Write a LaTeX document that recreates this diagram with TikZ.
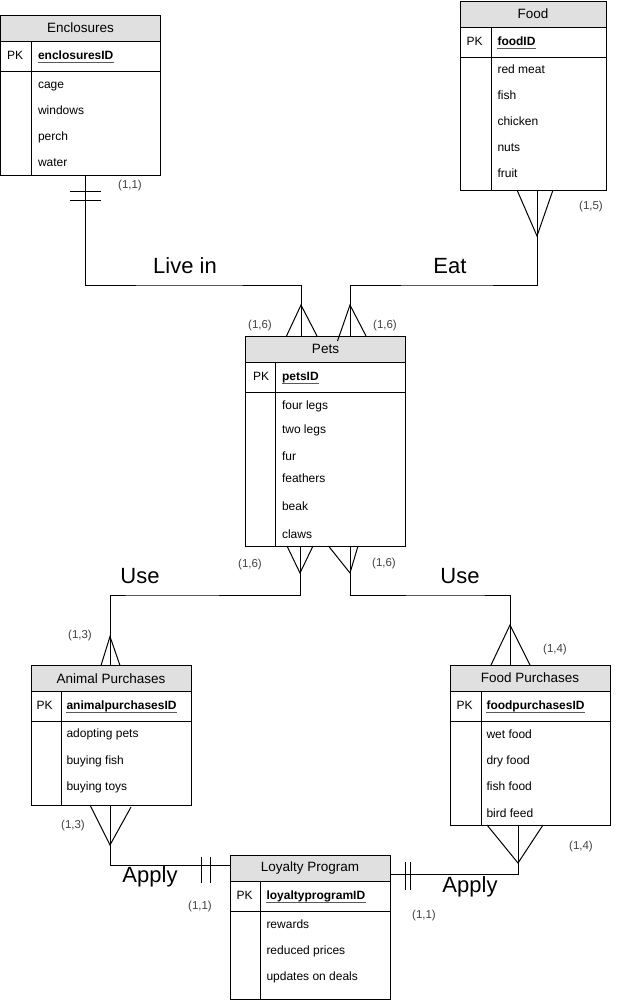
\documentclass[tikz,border=0pt]{standalone}
\usepackage{fontspec}
\setmainfont{Liberation Sans}
\usetikzlibrary{positioning}
\definecolor{headgray}{HTML}{E0E0E0}
\begin{document}
\begin{tikzpicture}[x=1pt, y=-1pt, line width=1pt,
    head/.style={draw, fill=headgray, minimum height=26pt, inner sep=0pt, outer sep=0pt, font=\fontsize{13.5}{16}\selectfont},
    pkbox/.style={draw, minimum height=30pt, inner sep=0pt, outer sep=0pt},
    bodybox/.style={draw, inner sep=0pt, outer sep=0pt},
    field/.style={anchor=west, inner sep=0pt, text height=8.6pt, text depth=2.4pt, font=\fontsize{12}{14}\selectfont},
    keyid/.style={field, font=\fontsize{12}{14}\selectfont\bfseries,
      append after command={(\tikzlastnode.south west) edge[line width=0.8pt, black!65] (\tikzlastnode.south east)}},
    card/.style={text=black!75, inner sep=0pt, font=\fontsize{11.5}{13}\selectfont},
    rel/.style={inner sep=0pt, font=\fontsize{22}{26}\selectfont}
    ]
    \useasboundingbox (0,0) rectangle (622,1001);

    % Enclosures
    \node[head, minimum width=160pt] (encl) at (80.5,28) {Enclosures};
    \node[pkbox, minimum width=160pt, below=0pt of encl] (enclpk) {};
    \node[bodybox, minimum width=160pt, minimum height=104pt, below=0pt of enclpk] (enclbody) {};
    \draw ([xshift=31pt]enclpk.north west) -- ([xshift=31pt]enclbody.south west);
    \node[field] (enclkey) at ([xshift=6pt]enclpk.west) {PK};
    \node[keyid] (enclid) at ([xshift=37pt]enclpk.west) {enclosuresID};
    \foreach \a [count=\i from 0] in {cage,windows,perch,water}
      \node[field] (encl\i) at ([xshift=37pt, yshift={-14pt-26pt*\i}]enclbody.north west) {\a};

    % Food
    \node[head, minimum width=146pt] (food) at (533,14) {Food};
    \node[pkbox, minimum width=146pt, below=0pt of food] (foodpk) {};
    \node[bodybox, minimum width=146pt, minimum height=133pt, below=0pt of foodpk] (foodbody) {};
    \draw ([xshift=31pt]foodpk.north west) -- ([xshift=31pt]foodbody.south west);
    \node[field] (foodkey) at ([xshift=6pt]foodpk.west) {PK};
    \node[keyid] (foodid) at ([xshift=37pt]foodpk.west) {foodID};
    \foreach \a [count=\i from 0] in {red meat,fish,chicken,nuts,fruit}
      \node[field] (food\i) at ([xshift=37pt, yshift={-13pt-26pt*\i}]foodbody.north west) {\a};

    % Pets
    \node[head, minimum width=160pt] (pets) at (325.5,349) {Pets};
    \node[pkbox, minimum width=160pt, below=0pt of pets] (petspk) {};
    \node[bodybox, minimum width=160pt, minimum height=154pt, below=0pt of petspk] (petsbody) {};
    \draw ([xshift=30pt]petspk.north west) -- ([xshift=30pt]petsbody.south west);
    \node[field] (petskey) at ([xshift=7pt]petspk.west) {PK};
    \node[keyid] (petsid) at ([xshift=36pt]petspk.west) {petsID};
    \foreach \a/\d [count=\i] in {four legs/14,two legs/38,fur/65,feathers/87,beak/115,claws/143}
      \node[field] (pets\i) at ([xshift=36pt, yshift=-\d pt]petsbody.north west) {\a};

    % Animal Purchases
    \node[head, minimum width=160pt] (animal) at (111,678.5) {Animal Purchases};
    \node[pkbox, minimum width=160pt, below=0pt of animal] (animalpk) {};
    \node[bodybox, minimum width=160pt, minimum height=83.5pt, below=0pt of animalpk] (animalbody) {};
    \draw ([xshift=30pt]animalpk.north west) -- ([xshift=30pt]animalbody.south west);
    \node[field] (animalkey) at ([xshift=5pt]animalpk.west) {PK};
    \node[keyid] (animalid) at ([xshift=35pt]animalpk.west) {animalpurchasesID};
    \foreach \a [count=\i from 0] in {adopting pets,buying fish,buying toys}
      \node[field] (animal\i) at ([xshift=35pt, yshift={-13pt-26.5pt*\i}]animalbody.north west) {\a};

    % Food Purchases
    \node[head, minimum width=160pt] (fpurch) at (530,678) {Food Purchases};
    \node[pkbox, minimum width=160pt, below=0pt of fpurch] (fpurchpk) {};
    \node[bodybox, minimum width=160pt, minimum height=104pt, below=0pt of fpurchpk] (fpurchbody) {};
    \draw ([xshift=31pt]fpurchpk.north west) -- ([xshift=31pt]fpurchbody.south west);
    \node[field] (fpurchkey) at ([xshift=6pt]fpurchpk.west) {PK};
    \node[keyid] (fpurchid) at ([xshift=36pt]fpurchpk.west) {foodpurchasesID};
    \foreach \a [count=\i from 0] in {wet food,dry food,fish food,bird feed}
      \node[field] (fpurch\i) at ([xshift=36pt, yshift={-14pt-26.3pt*\i}]fpurchbody.north west) {\a};

    % Loyalty Program
    \node[head, minimum width=160pt] (loyal) at (310,868) {Loyalty Program};
    \node[pkbox, minimum width=160pt, below=0pt of loyal] (loyalpk) {};
    \node[bodybox, minimum width=160pt, minimum height=88pt, below=0pt of loyalpk] (loyalbody) {};
    \draw ([xshift=30pt]loyalpk.north west) -- ([xshift=30pt]loyalbody.south west);
    \node[field] (loyalkey) at ([xshift=6pt]loyalpk.west) {PK};
    \node[keyid] (loyalid) at ([xshift=36pt]loyalpk.west) {loyaltyprogramID};
    \foreach \a [count=\i from 0] in {rewards,reduced prices,updates on deals}
      \node[field] (loyal\i) at ([xshift=36pt, yshift={-14pt-26pt*\i}]loyalbody.north west) {\a};

    % Live in
    \coordinate (liveinbend) at (185,285);
    \draw ([xshift=84.5pt]enclbody.south west) |- (liveinbend) -| ([xshift=55.5pt]pets.north west);
    \draw ([xshift=69.5pt, yshift=-16pt]enclbody.south west) -- ++(31,0);
    \draw ([xshift=69.5pt, yshift=-25pt]enclbody.south west) -- ++(31,0);
    \draw ([xshift=41pt]pets.north west) -- ++(14.5,-31) -- ++(16,31);
    \node[rel] (livein) at (185,266) {Live in};

    % Eat
    \coordinate (eatbend) at (450,285);
    \draw ([xshift=77pt]foodbody.south west) |- (eatbend) -| ([xshift=104.5pt]pets.north west);
    \draw ([xshift=57pt]foodbody.south west) -- ++(20,46) -- ++(16,-46);
    \draw ([xshift=92pt, yshift=-5pt]pets.north west) -- ++(12.5,-36) -- ++(16,31);
    \node[rel] (eat) at (450,266) {Eat};

    % Use (animal purchases)
    \coordinate (useleftbend) at (140,595);
    \draw ([xshift=54.5pt]petsbody.south west) |- (useleftbend) -| ([xshift=-1pt]animal.north);
    \draw ([xshift=41.5pt]petsbody.south west) -- ++(13,27) -- ++(13,-27);
    \draw ([xshift=-10pt]animal.north) -- ++(9,-29) -- ++(10,29);
    \node[rel] (useleft) at (140,576) {Use};

    % Use (food purchases)
    \coordinate (userightbend) at (460,595);
    \draw ([xshift=104.5pt]petsbody.south west) |- (userightbend) -| ([xshift=-20pt]fpurch.north);
    \draw ([xshift=94.5pt]petsbody.south west) -- ++(10,0);
    \draw ([xshift=83pt]petsbody.south west) -- ++(21.5,27) -- ++(8,-27);
    \draw ([xshift=-39pt]fpurch.north) -- ++(19,-40) -- ++(20,40);
    \node[rel] (useright) at (460,576) {Use};

    % Apply (animal purchases)
    \draw ([xshift=-1pt]animalbody.south) |- ([yshift=3pt]loyal.west);
    \draw ([xshift=-21pt]animalbody.south) -- ++(20,40) -- ++(21,-38);
    \draw ([xshift=-29pt, yshift=11pt]loyal.west) -- ++(0,26);
    \draw ([xshift=-20pt, yshift=11pt]loyal.west) -- ++(0,26);
    \node[rel] (applyleft) at (150,877) {Apply};

    % Apply (food purchases)
    \draw ([xshift=-12pt]fpurchbody.south) |- ([yshift=-6pt]loyal.east);
    \draw ([xshift=-43pt]fpurchbody.south) -- ++(31,38) -- ++(25,-38);
    \draw ([xshift=15pt, yshift=6pt]loyal.east) -- ++(0,28);
    \draw ([xshift=20pt, yshift=6pt]loyal.east) -- ++(0,28);
    \node[rel] (applyright) at (470,887) {Apply};

    % cardinalities
    \node[card] (c1) at (130,186) {(1,1)};
    \node[card] (c2) at (591,207) {(1,5)};
    \node[card] (c3) at (260,326) {(1,6)};
    \node[card] (c4) at (385,326) {(1,6)};
    \node[card] (c5) at (250,565) {(1,6)};
    \node[card] (c6) at (384,564) {(1,6)};
    \node[card] (c7) at (80,636) {(1,3)};
    \node[card] (c8) at (555,650) {(1,4)};
    \node[card] (c9) at (73,826) {(1,3)};
    \node[card] (c10) at (581,847) {(1,4)};
    \node[card] (c11) at (200,907) {(1,1)};
    \node[card] (c12) at (424,916) {(1,1)};
\end{tikzpicture}
\end{document}
